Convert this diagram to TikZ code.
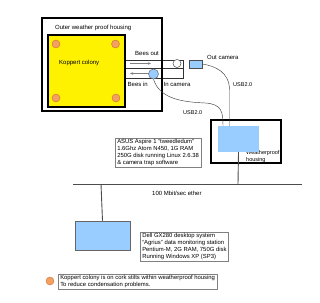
\documentclass[tikz,border=0pt]{standalone}
\usepackage{fontspec}
\setmainfont{Liberation Sans}
\usetikzlibrary{arrows.meta}
\definecolor{camblue}{HTML}{99CCFF}
\definecolor{stilt}{HTML}{F4A060}
\definecolor{stiltedge}{HTML}{C8703A}
\begin{document}
\begin{tikzpicture}[x=1pt,y=-1pt,
  font=\fontsize{6}{7}\selectfont,
  lbl/.style={inner sep=0pt, anchor=west},
  thickbox/.style={draw=black, line width=2pt, inner sep=0pt},
  stiltdot/.style={circle, fill=stilt, draw=stiltedge, line width=0.4pt, minimum size=8pt, inner sep=0pt},
  infobox/.style={draw=gray, line width=0.5pt, align=left, anchor=north west, inner xsep=2pt, inner ysep=1.2pt, font=\fontsize{5.9}{7}\selectfont},
  beearrow/.style={draw=gray, line width=0.8pt, -{Stealth[length=3pt,width=2.5pt]}},
  cable/.style={draw=black!75, line width=0.45pt},
  net/.style={draw=black!70, line width=0.9pt}
]
\useasboundingbox (0,0) rectangle (320,302);

% tunnel
\draw[line width=0.5pt, black!80] (125,60) -- (183,60) -- (183,78) -- (125,78);
\draw[line width=0.5pt, black!80] (125,68) -- (183,68);

% outer housing
\node[thickbox, minimum width=120pt, minimum height=93pt] (outer) at (102,64.5) {};
\node[lbl] (outerlbl) at (55,28) {Outer weather proof housing};

% colony
\node[draw=black, line width=1.4pt, fill=yellow, minimum width=77pt, minimum height=72pt, inner sep=0pt] (colony) at (86.5,71) {};
\node[stiltdot] (s1) at (56,44) {};
\node[stiltdot] (s2) at (115.5,44) {};
\node[stiltdot] (s3) at (56,98) {};
\node[stiltdot] (s4) at (116,98) {};
\node[lbl] (kop) at (59,63) {Koppert colony};

% bees arrows
\coordinate (bo1) at (130,63.5);
\coordinate (bo2) at (151,63.5);
\coordinate (bi1) at (151,73.5);
\coordinate (bi2) at (130,73.5);
\draw[beearrow] (bo1) -- (bo2);
\draw[beearrow] (bi1) -- (bi2);
\node[lbl] (beesout) at (135,53.5) {Bees out};
\node[lbl] (beesin) at (127.5,84.5) {Bees in};

% cameras
\node[circle, draw=black!70, fill=white, line width=0.5pt, minimum size=8pt, inner sep=0pt] (outcirc) at (177,63.5) {};
\node[circle, draw=black!60, fill=camblue, line width=0.5pt, minimum size=10pt, inner sep=0pt] (incam) at (153.5,74) {};
\node[lbl] (incamlbl) at (163.5,84.5) {In camera};
\node[draw=black!70, fill=camblue, line width=0.5pt, minimum width=13pt, minimum height=8pt, inner sep=0pt] (outcam) at (195.5,64) {};
\node[lbl] (outcamlbl) at (207,57.5) {Out camera};

% weatherproof housing
\node[lbl, align=left, font=\fontsize{5.5}{6.5}\selectfont] (wphlbl) at (246,156.5) {Weatherproof\\housing};
\node[thickbox, minimum width=70pt, minimum height=43pt] (wph) at (246,141.5) {};
\node[fill=camblue, minimum width=41pt, minimum height=26pt, inner sep=0pt] (asus) at (238.5,139) {};

% cables
\coordinate (c1) at (223,126);
\coordinate (c2) at (229.5,126);
\draw[cable] (incam.south) .. controls (160,100) and (185,102) .. (205,103)
  .. controls (222,104) and (223,112) .. (c1);
\draw[cable] (outcam.east) .. controls (215,66) and (229.5,72) .. (229.5,90) -- (c2);
\node[lbl, font=\fontsize{5.5}{6.5}\selectfont] (usb1) at (233,85) {USB2.0};
\node[lbl, font=\fontsize{5.5}{6.5}\selectfont] (usb2) at (183,112.5) {USB2.0};

% asus info
\node[infobox] (asusinfo) at (115,138) {ASUS Aspire 1 ``tweedledum''\\1.6Ghz Atom N450, 1G RAM\\250G disk running Linux 2.6.38\\\& camera trap software};

% ether
\coordinate (e1) at (73,184);
\coordinate (e2) at (302,184);
\coordinate (ew) at (238,184);
\coordinate (ed) at (101,184);
\draw[net] (e1) -- (e2);
\draw[net] (asus.south) -- (ew);
\node[lbl] (ether) at (152,193) {100 Mbit/sec ether};

% dell
\node[draw=black!60, fill=camblue, line width=0.5pt, minimum width=55pt, minimum height=29pt, inner sep=0pt] (dell) at (102.5,235.5) {};
\draw[net] (ed) -- (dell.north);
\node[infobox] (dellinfo) at (140,232) {Dell GX280 desktop system\\``Agrius'' data monitoring station\\Pentium-M, 2G RAM, 750G disk\\Running Windows XP (SP3)};

% legend
\node[stiltdot] (legdot) at (50,281) {};
\node[infobox] (legend) at (58,274) {Koppert colony is on cork stilts within weatherproof housing\\To reduce condensation problems.};
\end{tikzpicture}
\end{document}
